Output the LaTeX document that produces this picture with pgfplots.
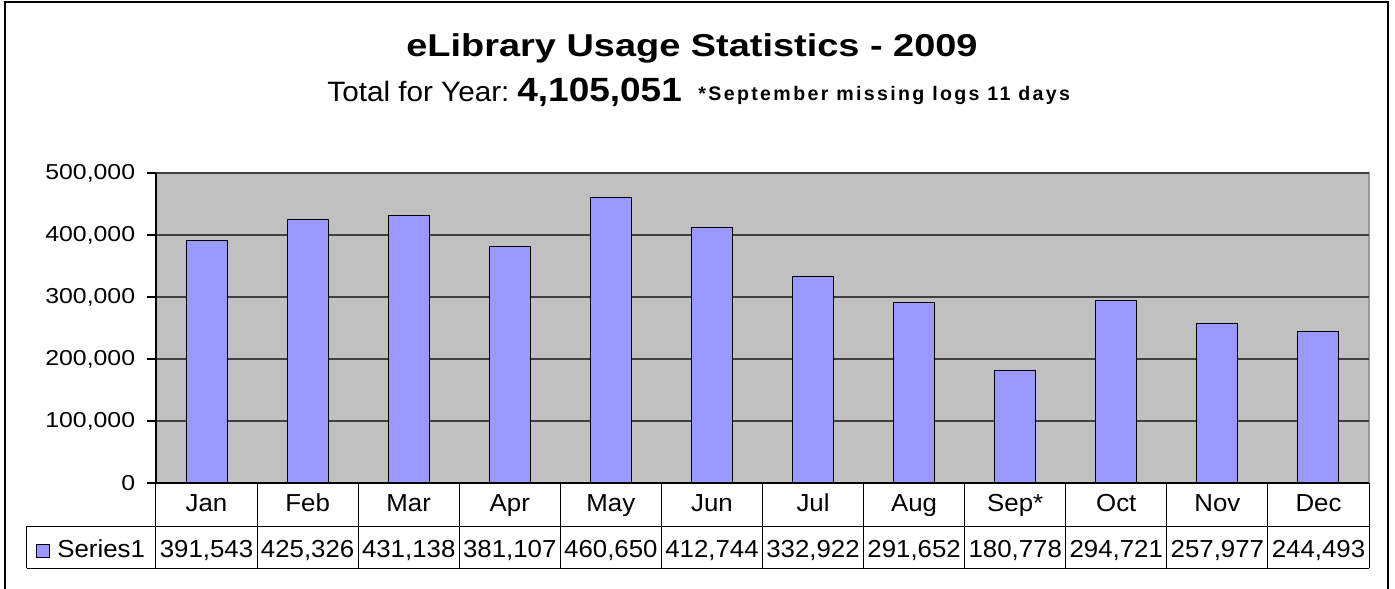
\documentclass[border=0pt]{standalone}
\usepackage{pgfplots}
\pgfplotsset{compat=1.18}
\usepackage{pgfplotstable}
\usepackage{graphicx}
\usepackage{fontspec}
\setmainfont{Liberation Sans}
\newfontfamily\axfont{Liberation Sans}[FakeStretch=1.15]
\newfontfamily\tabfont{Liberation Sans}[FakeStretch=1.05]
\newfontfamily\ttlfont{Liberation Sans}[FakeStretch=1.2]
\newfontfamily\notefont{Liberation Sans}[LetterSpace=12]
\definecolor{barblue}{HTML}{9999FF}
\definecolor{plotbg}{HTML}{C0C0C0}

% monthly usage, 2009
\pgfplotstableread{
x month usage
0  Jan  391543
1  Feb  425326
2  Mar  431138
3  Apr  381107
4  May  460650
5  Jun  412744
6  Jul  332922
7  Aug  291652
8  Sep*  180778
9  Oct  294721
10 Nov  257977
11 Dec  244493
}\usage

\begin{document}
\begin{tikzpicture}
\useasboundingbox (-78pt,-52.5pt) rectangle (619.5pt,241.5pt);
\begin{axis}[
  at={(0,0)}, anchor=south west,
  scale only axis, width=606.5pt, height=155pt,
  xmin=-0.5, xmax=11.5, ymin=0, ymax=500000,
  clip=false,
  axis x line*=bottom, axis y line*=left,
  axis line style={black, line width=0.6pt},
  axis background/.style={fill=plotbg, draw=black!40, line width=0.6pt},
  xtick={0,...,11},
  xticklabels from table={\usage}{month},
  minor xtick={-0.5,0.5,...,11.5},
  tick align=outside,
  major tick length=4.5pt, minor tick length=42.5pt,
  major x tick style={draw=none},
  minor x tick style={black, line width=0.5pt},
  ytick={0,100000,...,500000},
  scaled y ticks=false,
  ymajorgrids, major grid style={black!75, line width=0.6pt},
  ytick style={black, line width=0.6pt},
  yticklabel style={/pgf/number format/fixed, /pgf/number format/1000 sep={,},
    /pgf/number format/assume math mode=true,
    font=\axfont\fontsize{10.8pt}{12pt}\selectfont, xshift=-2.4pt},
  xticklabel style={anchor=base, yshift=-9.5pt,
    font=\tabfont\fontsize{12.3pt}{14pt}\selectfont},
]
\addplot[ybar, bar width=20.5pt, fill=barblue, draw=black, line width=0.5pt]
  table[x=x, y=usage]{\usage};
\addplot[draw=none, mark=none, point meta=explicit,
  nodes near coords={\pgfmathprintnumber[fixed, precision=0, 1000 sep={,}, assume math mode=true]{\pgfplotspointmeta}},
  every node near coord/.append style={anchor=base, inner sep=0pt, text=black,
    font=\tabfont\fontsize{12.3pt}{14pt}\selectfont}]
  table[x=x, y expr=-119355, meta=usage]{\usage};
\end{axis}
% data table frame
\draw[black, line width=0.5pt] (-64.5pt,-21.5pt) -- (606.5pt,-21.5pt)
  (-64.5pt,-42.5pt) -- (606.5pt,-42.5pt)
  (-64.5pt,-21.5pt) -- (-64.5pt,-42.5pt);
\draw[black, line width=0.5pt, fill=barblue] (-59.5pt,-37pt) rectangle (-53pt,-30.5pt);
\node[anchor=base west, inner sep=0pt, font=\tabfont\fontsize{12.3pt}{14pt}\selectfont]
  at (-49.5pt,-37pt) {Series1};
% outer frame
\draw[black, line width=0.8pt] (-75.5pt,-60pt) -- (-75.5pt,240.5pt) -- (616pt,240.5pt) -- (616pt,-60pt);
% titles
\node[anchor=base, inner sep=0pt, font=\ttlfont\bfseries\fontsize{15.8pt}{18pt}\selectfont]
  at (268pt,213pt) {eLibrary Usage Statistics - 2009};
\node[anchor=base west, inner sep=0pt] at (85.5pt,190.5pt)
  {\scalebox{1.06}[1]{\fontsize{14pt}{16pt}\selectfont Total for Year:}};
\node[anchor=base west, inner sep=0pt] at (180.5pt,190.5pt)
  {\scalebox{1.1}[1]{\fontsize{16.8pt}{19pt}\selectfont\bfseries 4,105,051}};
\node[anchor=base west, inner sep=0pt, font=\notefont\bfseries\fontsize{9.8pt}{11pt}\selectfont]
  at (271pt,191.25pt) {*September missing logs 11 days};
\end{tikzpicture}
\end{document}
